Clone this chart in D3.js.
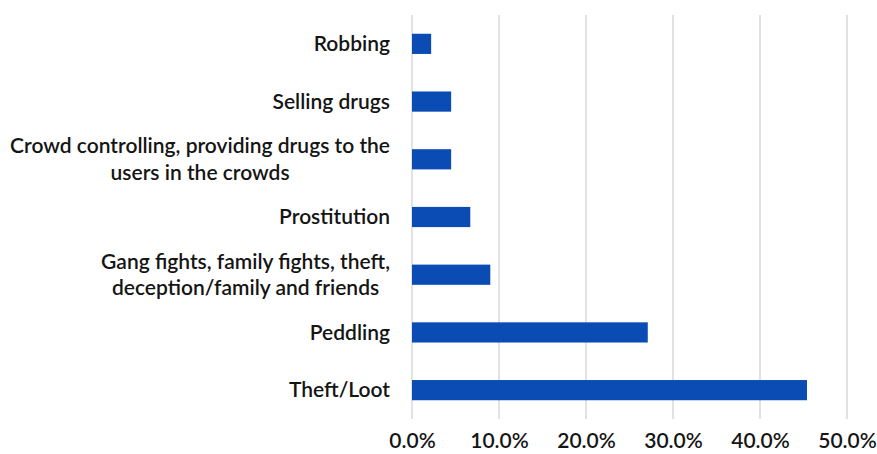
<!DOCTYPE html>
<html>
<head>
<meta charset="utf-8">
<script src="https://cdn.jsdelivr.net/npm/d3@7"></script>
<style>
  body { margin: 0; background: #fff; }
  svg { display: block; font-family: Lato, "Open Sans", sans-serif; }
</style>
</head>
<body>
<svg width="877" height="454"></svg>
<script>
// categories (top to bottom) and their shares
const categories = [
    ["Robbing"],
    ["Selling drugs"],
    ["Crowd controlling, providing drugs to the", "users in the crowds"],
    ["Prostitution"],
    ["Gang fights, family fights, theft,", "deception/family and friends"],
    ["Peddling"],
    ["Theft/Loot"]
];
const values = [2.2, 4.5, 4.5, 6.7, 9.0, 27.1, 45.4];
const tickValues = [0, 10, 20, 30, 40, 50];

const margin = {top: 15, right: 30, bottom: 35, left: 412},
      width = 847 - margin.left,
      height = 419 - margin.top;

const fontSize = 21;

const svg = d3.select("svg")
    .append("g")
    .attr("transform", `translate(${margin.left},${margin.top})`);

const x = d3.scaleLinear()
    .domain([0, 50])
    .range([0, width]);

const y = d3.scaleBand()
    .domain(d3.range(categories.length))
    .range([0, height])
    .paddingInner(0.65)
    .paddingOuter(0.325);

// vertical gridlines
svg.selectAll(".grid")
    .data(tickValues)
    .enter()
    .append("line")
    .attr("x1", d => x(d))
    .attr("x2", d => x(d))
    .attr("y1", 0)
    .attr("y2", height)
    .attr("stroke", "#d9d9d9")
    .attr("stroke-width", 1.5);

// bars
svg.selectAll(".bar")
    .data(values)
    .enter()
    .append("rect")
    .attr("x", x(0))
    .attr("y", (d, i) => y(i))
    .attr("width", d => x(d) - x(0))
    .attr("height", y.bandwidth())
    .attr("fill", "#0a4cb4");

// x axis labels
const xAxis = svg.append("g")
    .attr("transform", `translate(0,${height})`)
    .call(d3.axisBottom(x).tickValues(tickValues).tickSize(0).tickPadding(14)
        .tickFormat(d => d.toFixed(1) + "%"));
xAxis.select(".domain").remove();
xAxis.selectAll("text")
    .attr("font-family", "Lato, sans-serif")
    .attr("font-size", fontSize)
    .attr("font-weight", 600)
    .attr("fill", "#151515");

// category labels: block of centered lines, right edge at 390
const lineH = 26.5;
categories.forEach((lines, i) => {
    const cy = y(i) + y.bandwidth() / 2;
    const g = svg.append("g");
    const texts = lines.map((t, k) => g.append("text")
        .attr("y", cy + (k - (lines.length - 1) / 2) * lineH)
        .attr("dy", "0.35em")
        .attr("text-anchor", "middle")
        .attr("font-size", fontSize)
        .attr("font-weight", 600)
        .attr("fill", "#151515")
        .text(t));
    const maxW = d3.max(texts, t => t.node().getComputedTextLength());
    texts.forEach(t => t.attr("x", (390 - margin.left) - maxW / 2));
});
</script>
</body>
</html>
